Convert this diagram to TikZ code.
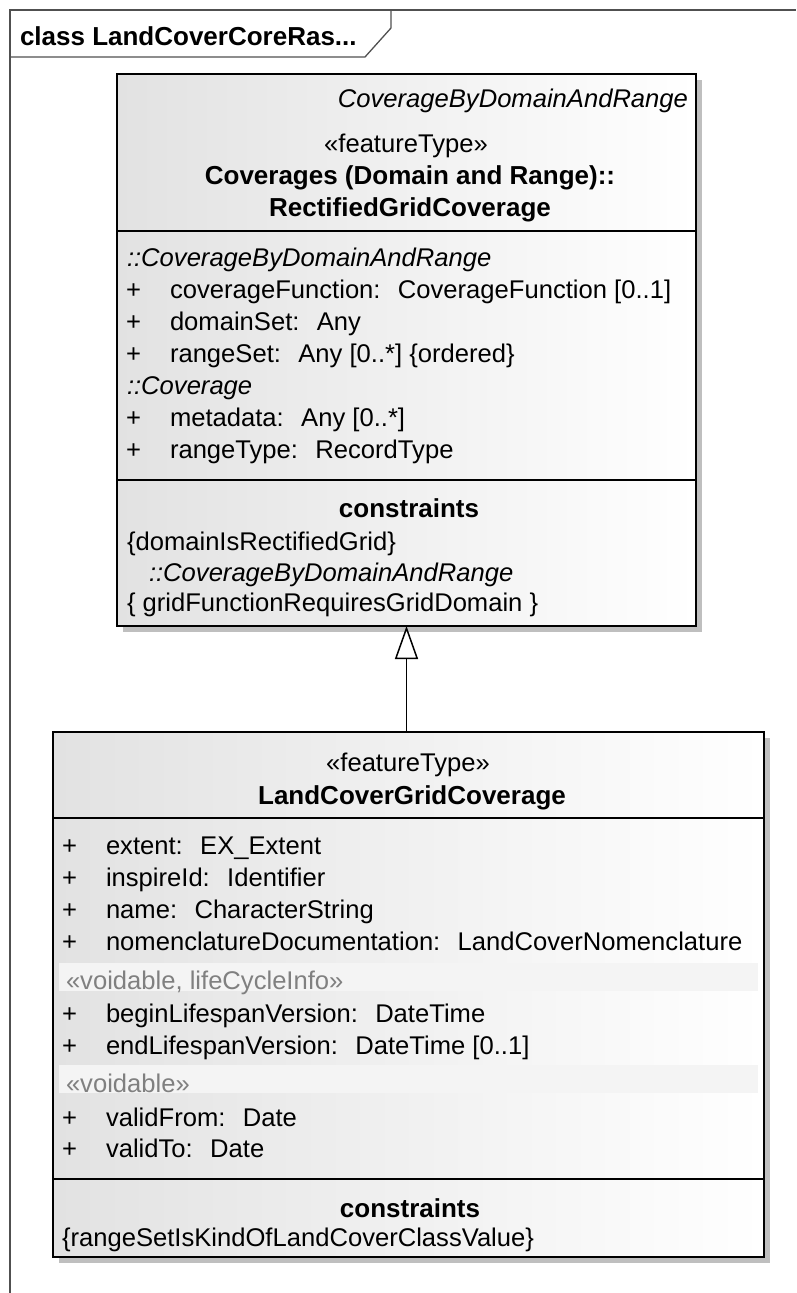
\documentclass[tikz,border=0pt]{standalone}
\usepackage{fontspec}
\setmainfont{Liberation Sans}
\usetikzlibrary{arrows.meta}
\definecolor{shadowc}{HTML}{BFBFBF}
\definecolor{framec}{HTML}{505050}
\definecolor{gradl}{HTML}{E2E2E2}
\definecolor{bandc}{HTML}{F4F4F4}
\definecolor{stc}{HTML}{808080}
\newcommand\attrgap{\hspace{0.68em}}
\begin{document}
\begin{tikzpicture}[x=1pt,y=-1pt,
 classbox/.style={draw=black, line width=2pt, left color=gradl, right color=white, inner sep=0pt, outer sep=0pt},
 divline/.style={line width=2pt},
 framel/.style={draw=framec, line width=1.3pt},
 tx/.style={inner sep=0pt, outer sep=0pt, anchor=base west, font=\fontsize{25.6}{30}\selectfont},
 txc/.style={tx, anchor=base},
 bx/.style={tx, font=\fontsize{26}{30}\selectfont\bfseries},
 bxc/.style={bx, anchor=base},
 itx/.style={tx, font=\fontsize{25.6}{30}\selectfont\itshape},
 stereo/.style={tx, text=stc},
 gen/.style={line width=1.5pt, -{Triangle[open, length=33pt, width=23pt, line width=1.5pt]}},
]
\useasboundingbox (0,0) rectangle (796,1293);

% frame
\draw[framel] (10,1293) -- (10,10) -- (796,10);
\draw[framel] (10,57) -- (365,57) -- (391,28) -- (391,10);
\node[bx] (frametitle) at (20,45) {class LandCoverCoreRas...};

% shadows
\fill[shadowc] (123,80) rectangle (702,632);
\fill[shadowc] (59,738) rectangle (770,1263);

% class boxes
\node[classbox, minimum width=579pt, minimum height=552pt] (top) at (406.5,350) {};
\node[classbox, minimum width=711pt, minimum height=525pt] (bot) at (408.5,994.5) {};

% compartment dividers
\draw[divline] (117,231) -- (696,231);
\draw[divline] (117,480) -- (696,480);
\draw[divline] (53,818) -- (764,818);
\draw[divline] (53,1179) -- (764,1179);

% stereotype bands
\fill[bandc] (59,963) rectangle (758,991);
\fill[bandc] (59,1065) rectangle (758,1093);

% ---- top class text
\node[itx, anchor=base east] (tparent) at (688,107) {CoverageByDomainAndRange};
\node[txc] (tst) at (406,152) {«featureType»};
\node[bxc] (tn1) at (410,184) {Coverages (Domain and Range)::};
\node[bxc] (tn2) at (410,216) {RectifiedGridCoverage};

\node[itx] (ta0) at (127,266) {::CoverageByDomainAndRange};
\node[tx] (tp1) at (126,298) {+};
\node[tx] (ta1) at (170,298) {coverageFunction:\attrgap CoverageFunction [0..1]};
\node[tx] (tp2) at (126,330) {+};
\node[tx] (ta2) at (170,330) {domainSet:\attrgap Any};
\node[tx] (tp3) at (126,362) {+};
\node[tx] (ta3) at (170,362) {rangeSet:\attrgap Any [0..*] \{ordered\}};
\node[itx] (ta4) at (127,394) {::Coverage};
\node[tx] (tp5) at (126,426) {+};
\node[tx] (ta5) at (170,426) {metadata:\attrgap Any [0..*]};
\node[tx] (tp6) at (126,458) {+};
\node[tx] (ta6) at (170,458) {rangeType:\attrgap RecordType};

\node[bxc] (tch) at (409,517) {constraints};
\node[tx] (tc1) at (127,550) {\{domainIsRectifiedGrid\}};
\node[itx] (tc2) at (149,581) {::CoverageByDomainAndRange};
\node[tx] (tc3) at (127,611) {\{ gridFunctionRequiresGridDomain \}};

% ---- bottom class text
\node[txc] (bst) at (408,771) {«featureType»};
\node[bxc] (bn) at (412,804) {LandCoverGridCoverage};

\node[tx] (bp1) at (62,854) {+};
\node[tx] (ba1) at (106,854) {extent:\attrgap EX\_Extent};
\node[tx] (bp2) at (62,886) {+};
\node[tx] (ba2) at (106,886) {inspireId:\attrgap Identifier};
\node[tx] (bp3) at (62,918) {+};
\node[tx] (ba3) at (106,918) {name:\attrgap CharacterString};
\node[tx] (bp4) at (62,950) {+};
\node[tx] (ba4) at (106,950) {nomenclatureDocumentation:\attrgap LandCoverNomenclature};
\node[stereo] (bs1) at (66,989) {«voidable, lifeCycleInfo»};
\node[tx] (bp5) at (62,1022) {+};
\node[tx] (ba5) at (106,1022) {beginLifespanVersion:\attrgap DateTime};
\node[tx] (bp6) at (62,1054) {+};
\node[tx] (ba6) at (106,1054) {endLifespanVersion:\attrgap DateTime [0..1]};
\node[stereo] (bs2) at (66,1092) {«voidable»};
\node[tx] (bp7) at (62,1126) {+};
\node[tx] (ba7) at (106,1126) {validFrom:\attrgap Date};
\node[tx] (bp8) at (62,1157) {+};
\node[tx] (ba8) at (106,1157) {validTo:\attrgap Date};

\node[bxc] (bch) at (410,1217) {constraints};
\node[tx] (bc1) at (62,1246) {\{rangeSetIsKindOfLandCoverClassValue\}};

% generalization
\draw[gen] (bot.north -| top.south) -- (top.south);
\end{tikzpicture}
\end{document}
